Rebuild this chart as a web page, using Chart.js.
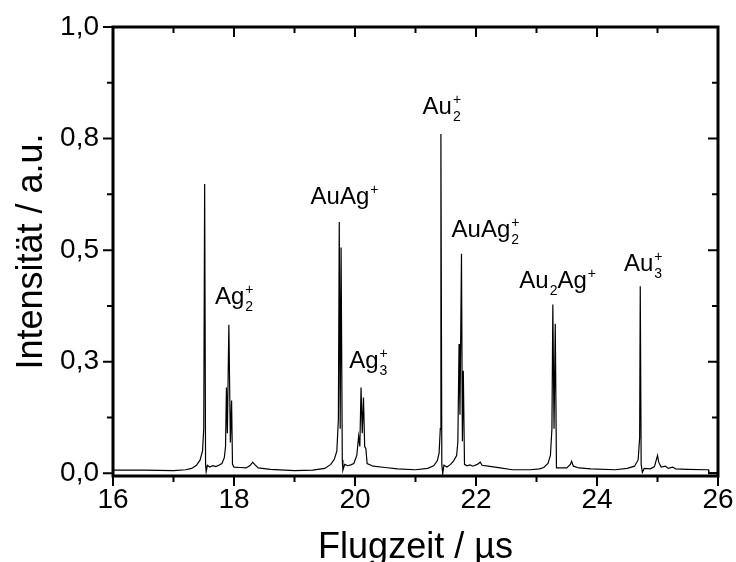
<!DOCTYPE html>
<html>
<head>
<meta charset="utf-8">
<script src="https://cdn.jsdelivr.net/npm/chart.js@4"></script>
<style>
  html, body { margin: 0; padding: 0; background: #fff; }
  #wrap { width: 736px; height: 562px; }
</style>
</head>
<body>
<div id="wrap"><canvas id="tof"></canvas></div>
<script>
// Time-of-flight mass spectrum, Au/Ag clusters.

const timeUs = [
  16.00, 16.50, 17.00, 17.20, 17.30, 17.38, 17.44, 17.48, 17.50, 17.515, 17.53, 17.54,
  17.56, 17.60, 17.65, 17.70, 17.75, 17.80, 17.84, 17.86, 17.875, 17.89, 17.915, 17.94,
  17.96, 17.975, 18.00, 18.10, 18.20, 18.27, 18.31, 18.34, 18.40, 18.60, 19.00, 19.30,
  19.50, 19.60, 19.66, 19.70, 19.725, 19.74, 19.755, 19.77, 19.79, 19.80, 19.83, 19.88,
  19.93, 19.98, 20.03, 20.06, 20.08, 20.10, 20.12, 20.14, 20.16, 20.18, 20.20, 20.30,
  20.50, 20.70, 21.00, 21.20, 21.30, 21.36, 21.39, 21.41, 21.42, 21.435, 21.45, 21.47,
  21.52, 21.58, 21.63, 21.68, 21.70, 21.72, 21.735, 21.76, 21.775, 21.79, 21.81, 21.85,
  21.90, 21.95, 22.02, 22.07, 22.10, 22.20, 22.40, 22.60, 22.90, 23.05, 23.12, 23.19,
  23.23, 23.255, 23.27, 23.29, 23.31, 23.33, 23.40, 23.50, 23.56, 23.58, 23.61, 23.70,
  23.90, 24.30, 24.50, 24.62, 24.68, 24.705, 24.715, 24.73, 24.75, 24.78, 24.88, 24.95,
  25.00, 25.02, 25.06, 25.13, 25.18, 25.25, 25.30, 25.50, 25.80, 25.84, 25.85, 26.00
];
const intensity = [
  0.007, 0.007, 0.006, 0.008, 0.011, 0.018, 0.030, 0.050, 0.100, 0.648, 0.020, 0.004,
  0.018, 0.014, 0.017, 0.015, 0.018, 0.022, 0.035, 0.060, 0.192, 0.090, 0.333, 0.069,
  0.163, 0.020, 0.014, 0.013, 0.012, 0.018, 0.025, 0.020, 0.012, 0.009, 0.006, 0.007,
  0.011, 0.020, 0.032, 0.050, 0.120, 0.563, 0.100, 0.506, 0.030, 0.007, 0.020, 0.017,
  0.019, 0.022, 0.040, 0.083, 0.060, 0.192, 0.090, 0.170, 0.060, 0.055, 0.022, 0.016,
  0.013, 0.010, 0.008, 0.011, 0.017, 0.028, 0.045, 0.100, 0.760, 0.020, -0.001, 0.018,
  0.014, 0.020, 0.028, 0.040, 0.070, 0.290, 0.131, 0.492, 0.072, 0.230, 0.020, 0.017,
  0.019, 0.016, 0.020, 0.025, 0.018, 0.016, 0.012, 0.008, 0.008, 0.010, 0.013, 0.022,
  0.040, 0.100, 0.378, 0.100, 0.335, 0.012, 0.012, 0.012, 0.020, 0.027, 0.016, 0.012,
  0.010, 0.008, 0.011, 0.016, 0.030, 0.080, 0.419, 0.020, 0.002, 0.011, 0.010, 0.015,
  0.040, 0.025, 0.014, 0.016, 0.011, 0.014, 0.010, 0.009, 0.008, 0.008, 0.001, 0.001
];

const xTicks = [16, 18, 20, 22, 24, 26];
const xMinorTicks = [17, 19, 21, 23, 25];
const yTicks = [0, 0.25, 0.5, 0.75, 1.0];
const yMinorTicks = [0.125, 0.375, 0.625, 0.875];

// peak assignments: [text, script] where script 0 = normal, -1 = subscript, 1 = superscript
const peakLabels = [
  { x: 17.686, y: 0.380, parts: [['Ag', 0], ['2', -1], ['+', 1]] },
  { x: 19.266, y: 0.604, parts: [['AuAg', 0], ['+', 1]] },
  { x: 19.905, y: 0.236, parts: [['Ag', 0], ['3', -1], ['+', 1]] },
  { x: 21.117, y: 0.804, parts: [['Au', 0], ['2', -1], ['+', 1]] },
  { x: 21.596, y: 0.529, parts: [['AuAg', 0], ['2', -1], ['+', 1]] },
  { x: 22.716, y: 0.415, parts: [['Au', 0], ['2', -1], ['Ag', 0], ['+', 1]] },
  { x: 24.446, y: 0.454, parts: [['Au', 0], ['3', -1], ['+', 1]] }
];

const FONT = "'Liberation Sans', Arial, sans-serif";

// Origin-style frame: outward ticks left/bottom, inward ticks top/right
const frameTicks = {
  id: 'frameTicks',
  afterDraw(chart) {
    const { ctx, chartArea: a, scales: { x, y } } = chart;
    ctx.save();
    ctx.strokeStyle = '#000';
    ctx.lineWidth = 2;
    const major = 10, minor = 6;
    const tickX = (v, len) => {
      const px = x.getPixelForValue(v);
      ctx.beginPath();
      ctx.moveTo(px, a.bottom); ctx.lineTo(px, a.bottom + len);
      ctx.moveTo(px, a.top); ctx.lineTo(px, a.top + len);
      ctx.stroke();
    };
    const tickY = (v, len) => {
      const py = y.getPixelForValue(v);
      ctx.beginPath();
      ctx.moveTo(a.left, py); ctx.lineTo(a.left - len, py);
      ctx.moveTo(a.right, py); ctx.lineTo(a.right - len, py);
      ctx.stroke();
    };
    xTicks.forEach((v) => tickX(v, major));
    xMinorTicks.forEach((v) => tickX(v, minor));
    yTicks.forEach((v) => tickY(v, major));
    yMinorTicks.forEach((v) => tickY(v, minor));
    ctx.lineWidth = 3;
    ctx.strokeRect(a.left, a.top, a.right - a.left, a.bottom - a.top);
    ctx.restore();
  }
};

const peakText = {
  id: 'peakText',
  afterDatasetsDraw(chart) {
    const { ctx, scales: { x, y } } = chart;
    ctx.save();
    ctx.fillStyle = '#000';
    ctx.textBaseline = 'alphabetic';
    ctx.textAlign = 'left';
    peakLabels.forEach((lab) => {
      let cx = x.getPixelForValue(lab.x);
      const base = y.getPixelForValue(lab.y);
      let scriptStart = null;
      lab.parts.forEach(([txt, s]) => {
        if (s === 0) {
          ctx.font = `24px ${FONT}`;
          ctx.fillText(txt, cx, base);
          cx += ctx.measureText(txt).width;
          scriptStart = null;
        } else {
          ctx.font = `14px ${FONT}`;
          const sx = scriptStart !== null ? scriptStart : cx;
          ctx.fillText(txt, sx + 1, s > 0 ? base - 10 : base + 7);
          const end = sx + 1 + ctx.measureText(txt).width;
          if (scriptStart === null) scriptStart = sx;
          cx = Math.max(cx, end);
        }
      });
    });
    ctx.restore();
  }
};

// keep tick-label overhang from shrinking the plot box
const noOverhang = (s) => {
  s.paddingLeft = 0; s.paddingRight = 0; s.paddingTop = 0; s.paddingBottom = 0;
};

new Chart(document.getElementById('tof'), {
  type: 'scatter',
  data: {
    datasets: [{
      data: timeUs.map((t, i) => ({ x: t, y: intensity[i] })),
      showLine: true,
      borderColor: '#000',
      borderWidth: 1.2,
      pointRadius: 0,
      tension: 0
    }]
  },
  options: {
    responsive: true,
    maintainAspectRatio: false,
    animation: false,
    layout: { padding: { top: 27, right: 18, left: 0, bottom: 0 } },
    plugins: { legend: { display: false }, tooltip: { enabled: false } },
    scales: {
      x: {
        type: 'linear',
        min: 16,
        max: 26,
        afterBuildTicks: (s) => { s.ticks = xTicks.map((v) => ({ value: v })); },
        afterFit: (s) => { s.height = 86; noOverhang(s); },
        grid: { display: false, drawTicks: false },
        border: { display: false },
        ticks: { color: '#000', padding: 7, maxRotation: 0, autoSkip: false, font: { family: FONT, size: 28 } },
        title: {
          display: true,
          text: 'Flugzeit / µs',
          color: '#000',
          padding: { top: 0, bottom: -4 },
          font: { family: FONT, size: 36, lineHeight: 1 }
        }
      },
      y: {
        type: 'linear',
        min: -0.006,
        max: 1.0,
        afterBuildTicks: (s) => { s.ticks = yTicks.map((v) => ({ value: v })); },
        afterFit: (s) => { s.width = 113; noOverhang(s); },
        grid: { display: false, drawTicks: false },
        border: { display: false },
        ticks: {
          color: '#000',
          padding: 14,
          font: { family: FONT, size: 28 },
          callback: (v) => v.toFixed(1).replace('.', ',')
        },
        title: {
          display: true,
          text: 'Intensität / a.u.',
          color: '#000',
          padding: { top: 14, bottom: 0 },
          font: { family: FONT, size: 36, lineHeight: 1 }
        }
      }
    }
  },
  plugins: [frameTicks, peakText]
});
</script>
</body>
</html>
